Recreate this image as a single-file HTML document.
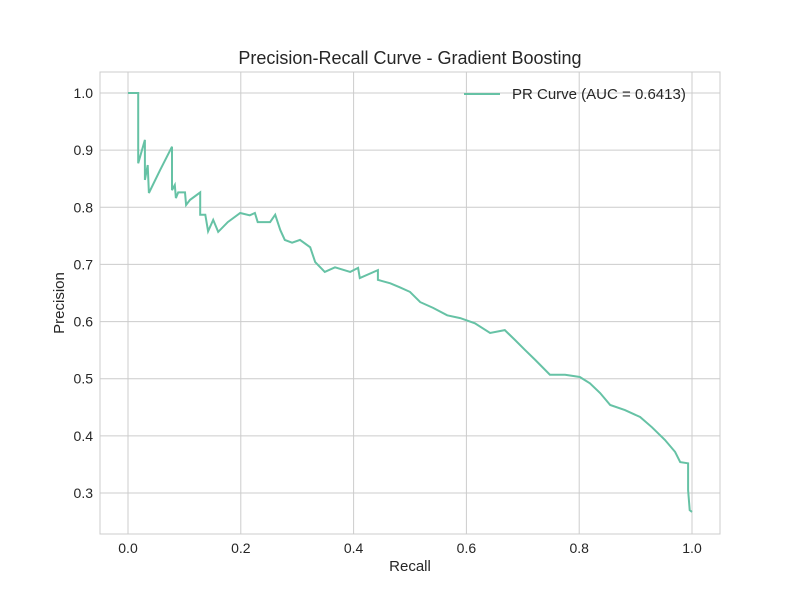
<!DOCTYPE html>
<html><head><meta charset="utf-8"><style>
body{margin:0;background:#fff;font-family:"Liberation Sans",sans-serif;}
text{font-family:"Liberation Sans",sans-serif;fill:#262626;}
</style></head><body>
<svg id="chart" width="800" height="600">
<rect width="800" height="600" fill="#fff"/>
<g id="grid"></g>
<rect x="100" y="72" width="620" height="462" fill="none" stroke="#cccccc" stroke-width="1"/>
<g id="ticks"></g>
<path id="curve" fill="none" stroke="#66c2a5" stroke-width="2"/>
<text x="410" y="64" text-anchor="middle" font-size="18">Precision-Recall Curve - Gradient Boosting</text>
<text x="410" y="571" text-anchor="middle" font-size="15">Recall</text>
<text transform="translate(64,303) rotate(-90)" text-anchor="middle" font-size="15">Precision</text>
<g>
<line x1="464" y1="94" x2="500" y2="94" stroke="#66c2a5" stroke-width="2"/>
<text x="512" y="99" font-size="15">PR Curve (AUC = 0.6413)</text>
</g>
</svg>
<script>
const recall=[0,0.018,0.018,0.030,0.030,0.035,0.037,0.057,0.078,0.078,0.083,0.085,0.089,0.101,0.103,0.110,0.128,0.128,0.137,0.142,0.151,0.160,0.177,0.199,0.216,0.225,0.230,0.252,0.261,0.270,0.278,0.291,0.305,0.323,0.332,0.349,0.367,0.394,0.408,0.411,0.443,0.443,0.465,0.482,0.500,0.518,0.541,0.566,0.589,0.615,0.642,0.668,0.686,0.704,0.722,0.748,0.775,0.801,0.819,0.837,0.855,0.881,0.908,0.929,0.952,0.970,0.979,0.993,0.993,0.996,1.0];
const precision=[1.0,1.0,0.877,0.918,0.848,0.874,0.825,0.865,0.906,0.830,0.839,0.816,0.826,0.826,0.804,0.813,0.826,0.787,0.787,0.758,0.778,0.757,0.774,0.790,0.786,0.790,0.774,0.774,0.787,0.760,0.743,0.738,0.743,0.730,0.704,0.687,0.695,0.687,0.694,0.676,0.690,0.673,0.667,0.660,0.652,0.634,0.624,0.611,0.606,0.597,0.580,0.585,0.568,0.550,0.533,0.507,0.507,0.503,0.492,0.475,0.454,0.445,0.433,0.415,0.393,0.372,0.354,0.352,0.305,0.270,0.267];
const xTicks=[0,0.2,0.4,0.6,0.8,1.0];
const yTicks=[0.3,0.4,0.5,0.6,0.7,0.8,0.9,1.0];
const X=v=>128+v*564, Y=v=>93+(1-v)*571.43;
const ns="http://www.w3.org/2000/svg";
const grid=document.getElementById('grid'), ticks=document.getElementById('ticks');
xTicks.forEach(t=>{
 const l=document.createElementNS(ns,'line');
 l.setAttribute('x1',X(t));l.setAttribute('x2',X(t));l.setAttribute('y1',72);l.setAttribute('y2',534);
 l.setAttribute('stroke','#cccccc');
 
 
 grid.appendChild(l);
 const tx=document.createElementNS(ns,'text');
 tx.setAttribute('x',X(t));tx.setAttribute('y',553);tx.setAttribute('text-anchor','middle');tx.setAttribute('font-size','14');
 tx.textContent=t.toFixed(1);
 
 
 ticks.appendChild(tx);
});
yTicks.forEach(t=>{
 const l=document.createElementNS(ns,'line');
 l.setAttribute('x1',100);l.setAttribute('x2',720);l.setAttribute('y1',Y(t));l.setAttribute('y2',Y(t));
 l.setAttribute('stroke','#cccccc');
 
 
 grid.appendChild(l);
 const tx=document.createElementNS(ns,'text');
 tx.setAttribute('x',93);tx.setAttribute('y',Y(t)+5);tx.setAttribute('text-anchor','end');tx.setAttribute('font-size','14');
 tx.textContent=t.toFixed(1);
 
 
 ticks.appendChild(tx);
});
let d='';
recall.forEach((r,i)=>{d+=(i?'L':'M')+X(r).toFixed(1)+','+Y(precision[i]).toFixed(1);});
document.getElementById('curve').setAttribute('d',d);
</script>
</body></html>
